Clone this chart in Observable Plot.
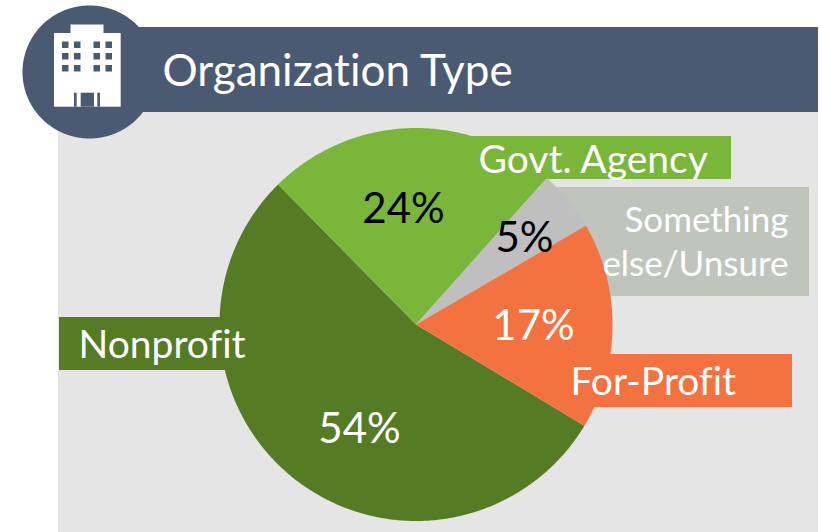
<!DOCTYPE html>
<html><head><meta charset="utf-8">
<script src="https://cdn.jsdelivr.net/npm/d3@7"></script>
<script src="https://cdn.jsdelivr.net/npm/@observablehq/plot@0.6"></script>
<style>html,body{margin:0;padding:0;background:#fff}svg{display:block}svg text{font-variant-ligatures:none;font-feature-settings:"liga" 0}</style>
</head><body><div id="chart"></div>
<script>
const categories = ["Nonprofit","Govt. Agency","Something else/Unsure","For-Profit"];
const shares = [54,24,5,17];
const sliceColors = ["#557c25","#7ab639","#bfbfbf","#f4723f"];
const shareColors = ["#fff","#000","#000","#fff"];
const title = "Organization Type";
const cx = 415.5, cy = 324, R = 196.5, startDeg = 121;
const labelPos = [[359,429],[403,209],[524,238],[533,326]];

const pie = d3.pie().sort(null).startAngle(startDeg*Math.PI/180).endAngle((startDeg+360)*Math.PI/180)(shares);
const wedgePts = pie.flatMap((a,i)=>{
  const n = Math.ceil((a.endAngle-a.startAngle)/0.01);
  const pts=[{i,x:cx,y:cy}];
  for(let k=0;k<=n;k++){const t=a.startAngle+(a.endAngle-a.startAngle)*k/n;
    pts.push({i,x:cx+R*Math.sin(t),y:cy-R*Math.cos(t)});}
  return pts;
});
const circlePts = d3.range(0,361,1).map(d=>({x:89+67*Math.sin(d*Math.PI/180),y:71.5-66.5*Math.cos(d*Math.PI/180)}));

const bands = [
 {x1:58,x2:818,y1:112,y2:532,c:"#e5e5e5"},
 {x1:100,x2:818,y1:27,y2:112,c:"#4a5a72"},
 {x1:59,x2:225,y1:317,y2:370,c:sliceColors[0]},
 {x1:470,x2:731,y1:136,y2:179,c:sliceColors[1]},
 {x1:555,x2:809,y1:187,y2:296,c:"#c0c5bc"},
 {x1:570,x2:792,y1:354,y2:407,c:sliceColors[3]}
];
const building = [[54,120.7,33,106.7],[70.5,103.5,24.5,33.5]].map(([x1,x2,y1,y2])=>({x1,x2,y1,y2,c:"#fff"}));
const windows = [];
for(const y of [41.5,53,65]) for(const x of [62,74,93.5,105.5]) windows.push({x1:x,x2:x+6.5,y1:y,y2:y+6.5,c:"#4a5a72"});
const doors = [[74,76.7,92.7,106.7],[80.7,94,92.7,106.7],[97.3,100,92.7,106.7]].map(([x1,x2,y1,y2])=>({x1,x2,y1,y2,c:"#4a5a72"}));
const boxes = [...building,...windows,...doors];

const rect = (d)=>Plot.rect(d,{x1:"x1",x2:"x2",y1:"y1",y2:"y2",fill:d=>d.c,inset:0});
const startLabels = [
 {t:"Nonprofit",x:78,y:345},
 {t:"Govt. Agency",x:478,y:160},
 {t:"For-Profit",x:570,y:382}
];
const endLabels = [
 {t:"Something",x:788,y:220},
 {t:"else/Unsure",x:788,y:264}
];
const chart = Plot.plot({
  width:820,height:532,margin:0,
  x:{domain:[0,820],axis:null},
  y:{domain:[532,0],axis:null},
  style:{background:"#fff",fontFamily:"Lato, 'Open Sans', sans-serif"},
  marks:[
    rect(bands),
    Plot.line(circlePts,{x:"x",y:"y",fill:"#4a5a72",stroke:"none"}),
    rect(boxes),
    Plot.line(wedgePts,{x:"x",y:"y",z:"i",fill:d=>sliceColors[d.i],stroke:"none"}),
    Plot.text(startLabels,{x:"x",y:"y",text:"t",textAnchor:"start",fill:"#fff",fontSize:39}),
    Plot.text(endLabels,{x:"x",y:"y",text:"t",textAnchor:"end",fill:"#fff",fontSize:35}),
    Plot.text(shares,{x:(d,i)=>labelPos[i][0],y:(d,i)=>labelPos[i][1],text:d=>d+"%",fill:(d,i)=>shareColors[i],fontSize:42}),
    Plot.text([title],{x:162,y:71,text:d=>d,textAnchor:"start",fill:"#fff",fontSize:44})
  ]
});
document.getElementById("chart").append(chart);
</script></body></html>
